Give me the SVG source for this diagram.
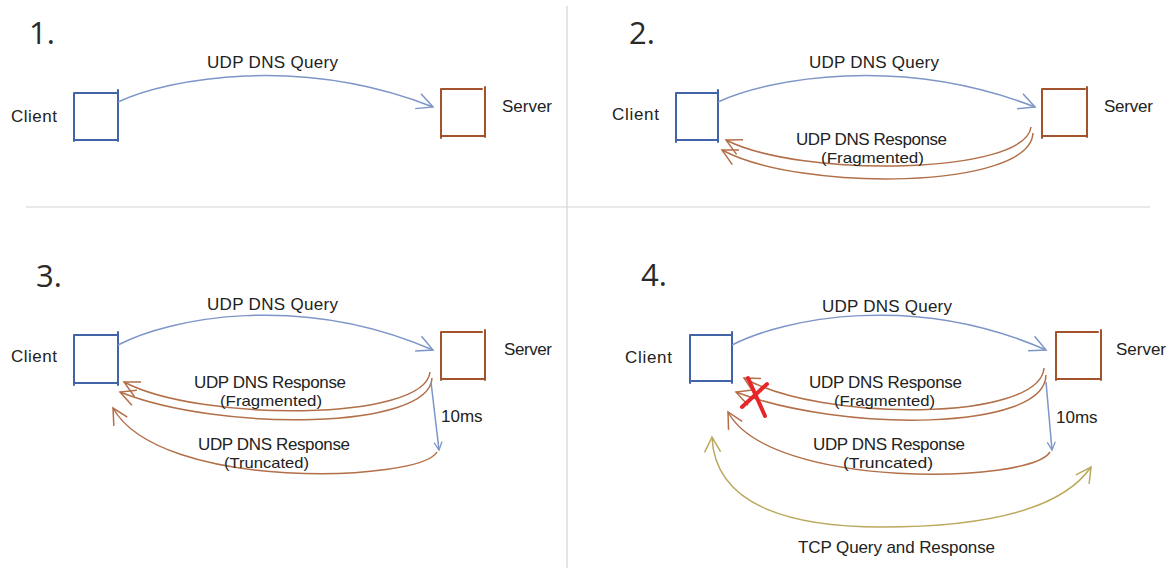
<svg xmlns="http://www.w3.org/2000/svg" width="1169" height="571" viewBox="0 0 1169 571">
<style>
.num{font-family:"Open Sans","Noto Sans",sans-serif;font-weight:400;font-size:31px;fill:#2a2a2a}
.lbl{font-family:"Liberation Sans",sans-serif;font-size:17px;fill:#222}
.sm{font-family:"Liberation Sans",sans-serif;font-size:15px;fill:#222}
.cb{fill:none;stroke:#4163a8;stroke-width:2;stroke-linecap:round}
.sb{fill:none;stroke:#a3532b;stroke-width:2;stroke-linecap:round}
.q{fill:none;stroke:#7d95c7;stroke-width:1.5}
.r{fill:none;stroke:#b26f48;stroke-width:1.5}
.t{fill:none;stroke:#bba85c;stroke-width:1.5}
.div{stroke:#d4d4d4;stroke-width:1.2}
.x{stroke:#e8262a;stroke-width:4;stroke-linecap:round}
</style>
<defs>
<marker id="ab" markerUnits="userSpaceOnUse" markerWidth="24" markerHeight="24" refX="20" refY="12" orient="auto"><path d="M4 4 L20 12 L4 20" fill="none" stroke="#7d95c7" stroke-width="1.5"/></marker>
<marker id="ar" markerUnits="userSpaceOnUse" markerWidth="26" markerHeight="26" refX="22" refY="13" orient="auto"><path d="M6 5 L22 13 L7 21" fill="none" stroke="#b26f48" stroke-width="1.5"/></marker>
<marker id="at" markerUnits="userSpaceOnUse" markerWidth="26" markerHeight="26" refX="22" refY="13" orient="auto-start-reverse"><path d="M7 5 L22 13 L7 21" fill="none" stroke="#bba85c" stroke-width="1.5"/></marker>
<marker id="ad" markerUnits="userSpaceOnUse" markerWidth="16" markerHeight="16" refX="14" refY="8" orient="auto"><path d="M6 4 L14 8 L6 12" fill="none" stroke="#7d95c7" stroke-width="1.3"/></marker>
</defs>
<rect width="1169" height="571" fill="#fff"/>
<g id="dividers">
<line class="div" x1="26" y1="207" x2="1150" y2="207"/>
<line class="div" x1="567" y1="6" x2="567" y2="568"/>
</g>
<g id="titles">
<text class="num" x="29" y="44">1.</text>
<text class="num" x="629" y="44">2.</text>
<text class="num" x="36" y="287">3.</text>
<text class="num" x="641" y="286">4.</text>
</g>
<g id="p1-client"><text class="lbl" x="11" y="122" textLength="46">Client</text><path class="cb" d="M74 93 L118 93 M74 93 L74 141 M74 140 L118 140 M118 90 L118 141"/></g>
<g id="p1-server"><text class="lbl" x="502" y="112" textLength="50">Server</text><path class="sb" d="M441 89 L482 89 M441 89 L441 138 M441 136 L485 136 M485 87 L485 137"/></g>
<g id="p2-client"><text class="lbl" x="612" y="120" textLength="47">Client</text><path class="cb" d="M676 93 L718 93 M676 93 L676 142 M676 140 L718 140 M718 90 L718 142"/></g>
<g id="p2-server"><text class="lbl" x="1104" y="112" textLength="49">Server</text><path class="sb" d="M1042 89 L1085 89 M1042 89 L1042 138 M1042 136 L1087 136 M1087 87 L1087 137"/></g>
<g id="p3-client"><text class="lbl" x="11" y="362" textLength="46">Client</text><path class="cb" d="M74 335 L118 335 M74 335 L74 385 M74 383 L118 383 M118 332 L118 385"/></g>
<g id="p3-server"><text class="lbl" x="504" y="355" textLength="48">Server</text><path class="sb" d="M441 332 L482 332 M441 332 L441 380 M441 379 L485 379 M485 330 L485 380"/></g>
<g id="p4-client"><text class="lbl" x="625" y="363" textLength="47">Client</text><path class="cb" d="M690 335 L732 335 M690 335 L690 383 M690 381 L732 381 M732 332 L732 383"/></g>
<g id="p4-server"><text class="lbl" x="1116" y="355" textLength="50">Server</text><path class="sb" d="M1056 332 L1098 332 M1056 332 L1056 380 M1056 379 L1101 379 M1101 330 L1101 380"/></g>
<g id="connectors">
<path class="q" d="M118 102 C 170 78, 300 55, 433 107" marker-end="url(#ab)"/>
<path class="q" d="M718 102 C 770 78, 900 55, 1035 107" marker-end="url(#ab)"/>
<path class="r" d="M1031 127 C 1025 175, 800 178, 726 140" marker-end="url(#ar)"/>
<path class="r" d="M1033 133 C 1030 190, 800 192, 722 150" marker-end="url(#ar)"/>
<path class="q" d="M118 345 C 170 318, 300 292, 433 350" marker-end="url(#ab)"/>
<path class="r" d="M430 372 C 425 422, 200 422, 124 382" marker-end="url(#ar)"/>
<path class="r" d="M432 378 C 430 430, 220 432, 120 392" marker-end="url(#ar)"/>
<path class="q" d="M431 382 L439 450" marker-end="url(#ad)"/>
<path class="r" d="M437 452 C 420 482, 160 492, 113 408" marker-end="url(#ar)"/>
<path class="q" d="M732 345 C 785 318, 915 292, 1046 350" marker-end="url(#ab)"/>
<path class="r" d="M1044 368 C 1040 422, 820 422, 744 378" marker-end="url(#ar)"/>
<path class="r" d="M1046 375 C 1045 432, 840 432, 736 392" marker-end="url(#ar)"/>
<path class="q" d="M1046 382 L1052 450" marker-end="url(#ad)"/>
<path class="r" d="M1050 452 C 1030 484, 770 490, 728 412" marker-end="url(#ar)"/>
<path class="t" d="M712 437 C 715 510, 800 527, 881 527 C 980 527, 1060 512, 1091 467" marker-start="url(#at)" marker-end="url(#at)"/>
</g>
<g id="labels">
<text class="lbl" x="207" y="68" textLength="131">UDP DNS Query</text>
<text class="lbl" x="809" y="68" textLength="130">UDP DNS Query</text>
<text class="lbl" x="796" y="145" textLength="151">UDP DNS Response</text>
<text class="sm" x="821" y="163" textLength="103" lengthAdjust="spacingAndGlyphs">(Fragmented)</text>
<text class="lbl" x="207" y="310" textLength="131">UDP DNS Query</text>
<text class="lbl" x="194" y="388" textLength="152">UDP DNS Response</text>
<text class="sm" x="220" y="406" textLength="102" lengthAdjust="spacingAndGlyphs">(Fragmented)</text>
<text class="lbl" x="441" y="422">10ms</text>
<text class="lbl" x="198" y="450" textLength="152">UDP DNS Response</text>
<text class="sm" x="224" y="468" textLength="85" lengthAdjust="spacingAndGlyphs">(Truncated)</text>
<text class="lbl" x="822" y="312" textLength="130">UDP DNS Query</text>
<text class="lbl" x="809" y="388" textLength="153">UDP DNS Response</text>
<text class="sm" x="834" y="406" textLength="101" lengthAdjust="spacingAndGlyphs">(Fragmented)</text>
<text class="lbl" x="1056" y="423">10ms</text>
<text class="lbl" x="813" y="450" textLength="152">UDP DNS Response</text>
<text class="sm" x="843" y="468" textLength="90" lengthAdjust="spacingAndGlyphs">(Truncated)</text>
<text class="lbl" x="798" y="553" textLength="197">TCP Query and Response</text>
</g>
<g id="drop-mark">
<line class="x" x1="748" y1="378" x2="765" y2="416"/>
<line class="x" x1="767" y1="384" x2="742" y2="407"/>
</g>
</svg>
